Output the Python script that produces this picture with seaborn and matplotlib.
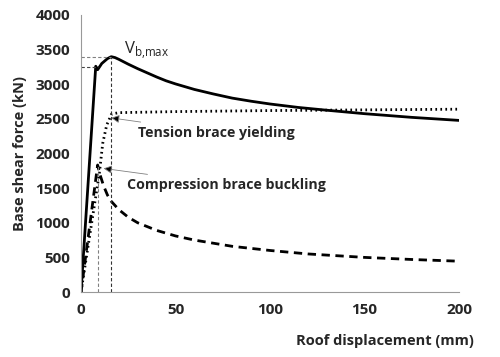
import numpy as np
import pandas as pd
import matplotlib
matplotlib.use('Agg')
import matplotlib.pyplot as plt
import seaborn as sns

# pushover curves
total_disp = [0, 7.8, 8.8, 11, 14, 16, 18, 20, 25, 30, 35, 40, 45, 50, 60, 70, 80, 90, 100,
              115, 130, 150, 175, 200]
total_shear = [0, 3260, 3210, 3300, 3370, 3398, 3385, 3360, 3290, 3225, 3165, 3105, 3050, 3005,
               2925, 2860, 2800, 2755, 2715, 2665, 2625, 2575, 2522, 2478]

tension_disp = [0, 9.7, 11.5, 13.6, 16.2, 20, 50, 100, 150, 200]
tension_shear = [0, 1714, 2147, 2411, 2570, 2590, 2605, 2620, 2630, 2640]

compr_disp = [0, 8.8, 10, 12, 14, 16, 20, 25, 30, 40, 50, 60, 80, 100, 120, 150, 175, 200]
compr_shear = [0, 1834, 1700, 1530, 1400, 1310, 1190, 1080, 1000, 890, 810, 750, 660, 600,
               550, 500, 470, 445]

# key points
buckle_disp, buckle_shear, kink_shear = 8.8, 1834, 3250
peak_disp, peak_shear = 15.9, 3398

sns.set_style("white")
plt.rcParams['font.family'] = ['Open Sans', 'DejaVu Sans']

fig = plt.figure(figsize=(5, 3.57), dpi=100)
ax = fig.add_axes([0.162, 0.182, 0.756, 0.776])

sns.lineplot(x=total_disp, y=total_shear, ax=ax, color='black', lw=2.0, sort=False)
sns.lineplot(x=tension_disp, y=tension_shear, ax=ax, color='black', lw=2.0, sort=False,
             linestyle=(0, (0.6, 1.2)))
sns.lineplot(x=compr_disp, y=compr_shear, ax=ax, color='black', lw=2.0, sort=False,
             linestyle=(0, (3, 2)))

# guide lines
ax.plot([buckle_disp, buckle_disp], [0, buckle_shear], color='gray', lw=0.8, ls=(0, (3, 2)))
ax.plot([peak_disp, peak_disp], [0, peak_shear], color='#333333', lw=0.8, ls=(0, (3, 2)))
ax.plot([0, peak_disp], [peak_shear, peak_shear], color='gray', lw=0.8, ls=(0, (3, 2)))
ax.plot([0, buckle_disp], [kink_shear, kink_shear], color='#444444', lw=0.8, ls=(0, (3, 2)))

arrow = dict(arrowstyle='-|>', fc='black', ec='gray', lw=0.6, mutation_scale=12)
ax.annotate('Tension brace yielding', xy=(14.5, 2520), xytext=(30, 2300),
            fontsize=10.2, fontweight='bold', va='center', arrowprops=arrow)
ax.annotate('Compression brace buckling', xy=(10.5, 1790), xytext=(24.2, 1545),
            fontsize=10.2, fontweight='bold', va='center', arrowprops=arrow)
ax.text(22.8, 3440, r'V$_{\mathregular{b{,}max}}$', fontsize=12, va='baseline')

ax.set_xlim(0, 200)
ax.set_ylim(0, 4000)
ax.set_xticks([0, 50, 100, 150, 200])
ax.set_yticks(range(0, 4001, 500))
for side in ['top', 'right']:
    ax.spines[side].set_visible(False)
for side in ['left', 'bottom']:
    ax.spines[side].set_color('#999999')
ax.tick_params(axis='both', direction='out', length=4, color='#999999', labelsize=11, pad=4)
for lab in ax.get_xticklabels() + ax.get_yticklabels():
    lab.set_fontweight('bold')
ax.set_xlabel('Roof displacement (mm)', fontsize=10.5, fontweight='bold')
ax.xaxis.set_label_coords(1.04, -0.15)
ax.xaxis.label.set_horizontalalignment('right')
ax.set_ylabel('Base shear force (kN)', fontsize=10.5, fontweight='bold', labelpad=6)

plt.savefig('out.png', dpi=100)
